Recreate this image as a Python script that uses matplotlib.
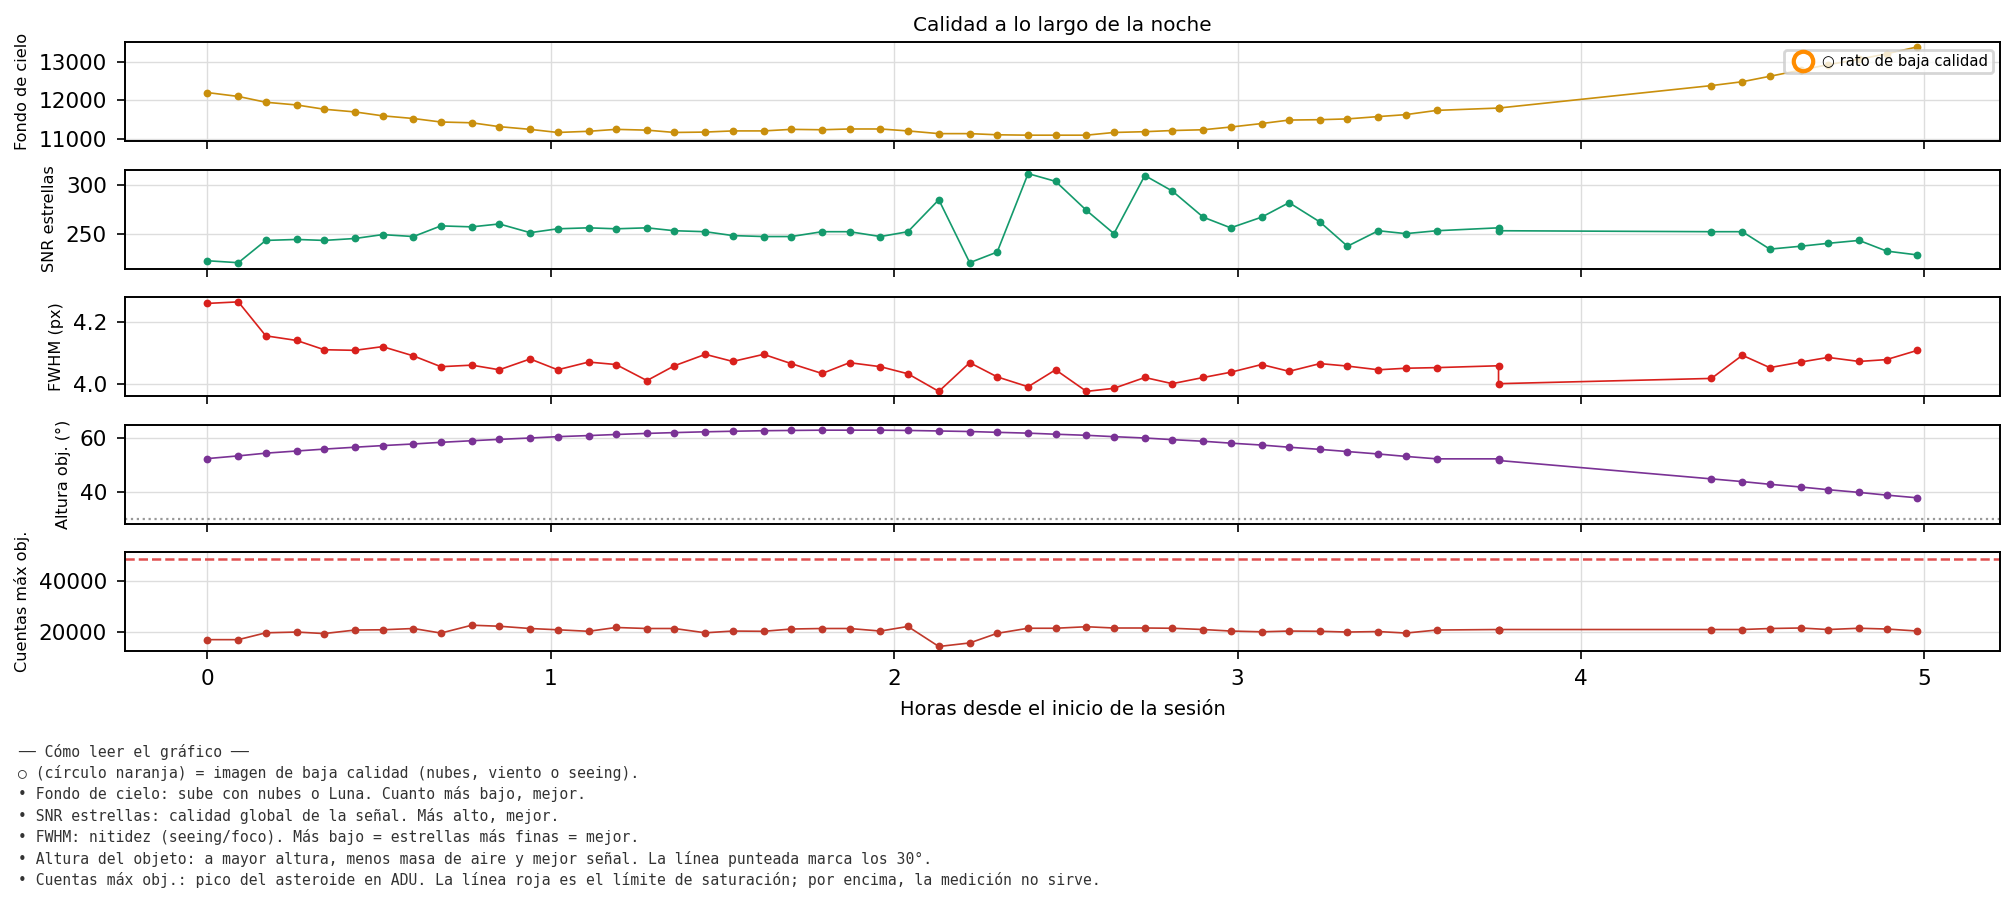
import matplotlib
matplotlib.use("Agg")
import matplotlib.pyplot as plt
from matplotlib.lines import Line2D

hours = [0, .09, .17, .26, .34, .43, .51, .60, .68, .77, .85, .94, 1.02, 1.11, 1.19, 1.28, 1.36, 1.45,
         1.53, 1.62, 1.70, 1.79, 1.87, 1.96, 2.04, 2.13, 2.22, 2.30, 2.39, 2.47, 2.56, 2.64, 2.73, 2.81,
         2.90, 2.98, 3.07, 3.15, 3.24, 3.32, 3.41, 3.49, 3.58, 3.76, 3.76,
         4.38, 4.47, 4.55, 4.64, 4.72, 4.81, 4.89, 4.98]
sky = [12200, 12100, 11950, 11880, 11770, 11700, 11600, 11530, 11440, 11420, 11320, 11250, 11170, 11200,
       11250, 11230, 11170, 11180, 11210, 11210, 11250, 11240, 11260, 11260, 11210, 11140, 11140, 11110,
       11100, 11100, 11100, 11170, 11190, 11220, 11240, 11310, 11400, 11490, 11500, 11520, 11580, 11630,
       11740, 11800, 11800, 12380, 12480, 12620, 12780, 12920, 13060, 13200, 13380]
snr = [222, 220, 243, 244, 243, 245, 249, 247, 258, 257, 260, 251, 255, 256, 255, 256, 253, 252, 248, 247,
       247, 252, 252, 247, 252, 285, 220, 231, 312, 304, 274, 250, 310, 294, 267, 256, 267, 282, 262, 237,
       253, 250, 253, 256, 253, 252, 252, 234, 237, 240, 243, 232, 228]
fwhm = [4.26, 4.265, 4.155, 4.14, 4.11, 4.108, 4.12, 4.09, 4.055, 4.06, 4.045, 4.08, 4.045, 4.07, 4.062,
        4.01, 4.058, 4.095, 4.072, 4.095, 4.065, 4.033, 4.068, 4.055, 4.032, 3.975, 4.068, 4.022, 3.99,
        4.045, 3.975, 3.985, 4.02, 4.0, 4.02, 4.037, 4.062, 4.04, 4.065, 4.057, 4.045, 4.05, 4.052, 4.058,
        4.0, 4.017, 4.092, 4.052, 4.07, 4.085, 4.072, 4.078, 4.108]
alt = [52.5, 53.5, 54.5, 55.3, 56, 56.7, 57.3, 57.9, 58.5, 59.1, 59.6, 60.1, 60.6, 61, 61.4, 61.8, 62.1,
       62.4, 62.6, 62.8, 62.9, 63, 63, 63, 62.9, 62.7, 62.5, 62.2, 61.9, 61.5, 61.1, 60.6, 60.1, 59.5,
       58.9, 58.2, 57.5, 56.7, 55.9, 55.1, 54.2, 53.3, 52.4, 52.4, 51.8, 45, 44, 43, 42, 41, 40, 39, 38]
counts = [17000, 17000, 19700, 20000, 19400, 20800, 20900, 21400, 19600, 22700, 22300, 21400, 20900, 20300,
          21800, 21400, 21400, 19700, 20400, 20300, 21200, 21400, 21400, 20400, 22200, 14300, 15700, 19500,
          21500, 21500, 22100, 21600, 21600, 21500, 21000, 20400, 20100, 20400, 20300, 20000, 20200, 19600,
          20800, 21000, 21000, 21000, 21000, 21400, 21600, 21000, 21500, 21200, 20400]
alt_limit = 30
saturation = 49000

fig = plt.figure(figsize=(10.08, 4.49), dpi=200)
panels = [
    (sky, "#c98f0c", "Fondo de cielo", (10950, 13500), [11000, 12000, 13000]),
    (snr, "#149a6c", "SNR estrellas", (214, 316), [250, 300]),
    (fwhm, "#d9201c", "FWHM (px)", (3.96, 4.28), [4.0, 4.2]),
    (alt, "#7a3295", "Altura obj. (°)", (28.5, 65), [40, 60]),
    (counts, "#c0392b", "Cuentas máx obj.", (12500, 51500), [20000, 40000]),
]
tops = [0.047, 0.189, 0.331, 0.473, 0.615]
h = 0.110
axes = []
for i, (vals, col, lab, yl, yt) in enumerate(panels):
    ax = fig.add_axes([0.062, 1 - tops[i] - h, 0.930, h])
    ax.plot(hours, vals, "-o", color=col, lw=0.6, ms=1.8)
    ax.set_xlim(-0.24, 5.22)
    ax.set_ylim(*yl)
    ax.set_yticks(yt)
    ax.set_xticks([0, 1, 2, 3, 4, 5])
    ax.grid(True, color="#dddddd", lw=0.5)
    ax.set_ylabel(lab, fontsize=5.8, labelpad=3)
    ax.tick_params(labelsize=7.8, width=0.6, length=3)
    for s in ax.spines.values():
        s.set_linewidth(0.7)
    if i < 4:
        ax.set_xticklabels([])
    axes.append(ax)

axes[0].set_title("Calidad a lo largo de la noche", fontsize=7.2, pad=4)
axes[0].legend([Line2D([], [], ls="none", marker="o", mfc="none", mec="#ff8c00", mew=1.5, ms=7)],
               ["○ rato de baja calidad"], loc="upper right", fontsize=5.3, framealpha=0.8,
               borderpad=0.3, handletextpad=0.3)
axes[3].axhline(alt_limit, color="#999999", ls=":", lw=0.8)
axes[4].axhline(saturation, color="#e05050", ls="--", lw=0.9)
axes[4].set_xlabel("Horas desde el inicio de la sesión", fontsize=7)

notes = ("── Cómo leer el gráfico ──\n"
         "○ (círculo naranja) = imagen de baja calidad (nubes, viento o seeing).\n"
         "• Fondo de cielo: sube con nubes o Luna. Cuanto más bajo, mejor.\n"
         "• SNR estrellas: calidad global de la señal. Más alto, mejor.\n"
         "• FWHM: nitidez (seeing/foco). Más bajo = estrellas más finas = mejor.\n"
         "• Altura del objeto: a mayor altura, menos masa de aire y mejor señal. La línea punteada marca los 30°.\n"
         "• Cuentas máx obj.: pico del asteroide en ADU. La línea roja es el límite de saturación; por encima, la medición no sirve.")
fig.text(0.009, 0.172, notes, family="DejaVu Sans Mono", fontsize=5.3, va="top", color="#333333",
         linespacing=1.42)
fig.savefig("out.png", dpi=200)
